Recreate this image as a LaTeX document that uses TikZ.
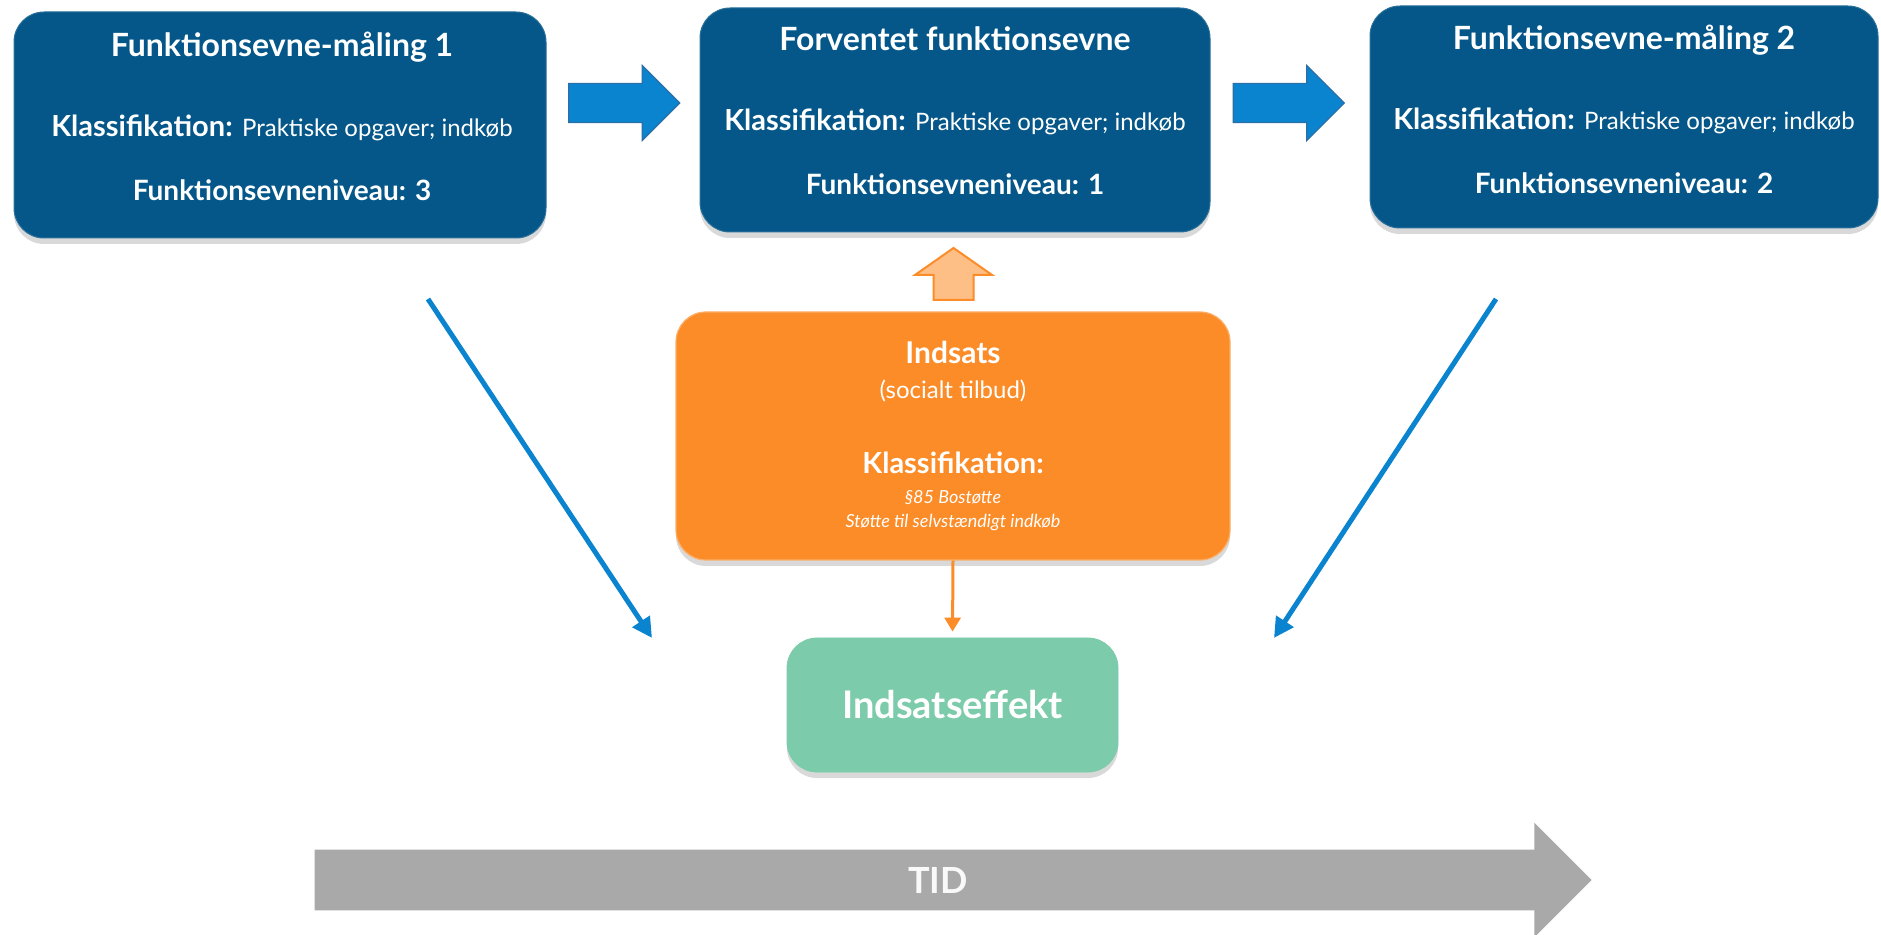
\documentclass[tikz,border=0pt]{standalone}
\usepackage{fontspec}
\setmainfont{Lato}
\usetikzlibrary{shapes.arrows,shadows,arrows.meta,positioning}

\definecolor{maalblue}{HTML}{045788}
\definecolor{pilblue}{HTML}{0A84CF}
\definecolor{pilkant}{HTML}{2B6FA6}
\definecolor{indorange}{HTML}{FB8C28}
\definecolor{lysorange}{HTML}{FEBF87}
\definecolor{effgreen}{HTML}{7CCBAA}
\definecolor{tidgrey}{HTML}{A9A9A9}

\newcommand{\klass}[1]{{\fontsize{14.5}{16}\selectfont\bfseries Klassifikation:} {\fontsize{12}{13}\selectfont #1}}

\begin{document}
\begin{tikzpicture}[
			x=0.5pt,y=-0.5pt,
			boks/.style={rectangle,rounded corners=15pt,drop shadow={shadow xshift=0pt,shadow yshift=-3pt,opacity=0.3}},
			maal/.style={boks,fill=maalblue,draw=maalblue!85!white,line width=0.5pt},
			maaltxt/.style={text=white,align=center,font=\fontsize{14}{17}\selectfont},
			blokpil/.style={single arrow,single arrow head extend=9pt,minimum height=55.5pt,inner xsep=0pt,inner ysep=9.5pt,fill=pilblue,draw=pilkant,line width=0.6pt},
			diagpil/.style={draw=pilblue,line width=2.5pt,-{Triangle[length=10pt,width=10pt]}},
			]
			\useasboundingbox (0,0) rectangle (1881,935);
			% maalinger
			\node [maal,minimum width=266pt,minimum height=113pt] (m1) at (280,125) {};
			\node [maal,minimum width=255pt,minimum height=112pt] (m2) at (955,120) {};
			\node [maal,minimum width=254pt,minimum height=111pt] (m3) at (1624,117) {};
			\node [maaltxt] (m1txt) at (282,116) {\fontsize{16}{18}\selectfont\bfseries Funktionsevne-måling 1\\[23pt]
				\klass{Praktiske opgaver; indkøb}\\[15pt]
				\bfseries Funktionsevneniveau: 3};
			\node [maaltxt] (m2txt) at (955,111) {\fontsize{16}{18}\selectfont\bfseries Forventet funktionsevne\\[23pt]
				\klass{Praktiske opgaver; indkøb}\\[15pt]
				\bfseries Funktionsevneniveau: 1};
			\node [maaltxt] (m3txt) at (1624,109) {\fontsize{16}{18}\selectfont\bfseries Funktionsevne-måling 2\\[23pt]
				\klass{Praktiske opgaver; indkøb}\\[15pt]
				\bfseries Funktionsevneniveau: 2};
			\node [blokpil] (p12) at (614.5,103) {};
			\node [blokpil] (p23) at (1279,103) {};
			% indsats
			\node [boks,fill=indorange,draw=indorange!70!white,line width=0.6pt,minimum width=277pt,minimum height=124pt,text=white,align=center] (ind) at (953,436)
				{\fontsize{15}{12.5}\selectfont\bfseries Indsats\\[5.5pt]
				\fontsize{12}{12.5}\selectfont\mdseries (socialt tilbud)\\[23.5pt]
				\fontsize{14.5}{12.5}\selectfont\bfseries Klassifikation:\\[3pt]
				\fontsize{9}{12.5}\selectfont\mdseries\itshape §85 Bostøtte\\
				\fontsize{9}{12.5}\selectfont\mdseries\itshape Støtte til selvstændigt indkøb};
			\node [single arrow,shape border rotate=90,single arrow head extend=9.25pt,single arrow tip angle=110,minimum height=26pt,inner xsep=9.5pt,inner ysep=0pt,fill=lysorange,draw=indorange,line width=1pt] (op) at (953.5,281) {};
			\node [boks,fill=effgreen,draw=effgreen,minimum width=165.5pt,minimum height=67pt,text=white,font=\fontsize{19}{22}\selectfont\bfseries] (eff) at (952.5,705) {Indsatseffekt};
			\draw [draw=indorange,line width=1.5pt,-{Triangle[length=7pt,width=8pt]},shorten >=3pt] (ind.south) -- (eff.north);
			% skraa pile
			\coordinate (v1) at (428,299);
			\coordinate (v2) at (652,638);
			\coordinate (h1) at (1496,299);
			\coordinate (h2) at (1274,638);
			\draw [diagpil] (v1) -- (v2);
			\draw [diagpil] (h1) -- (h2);
			% tid
			\node [single arrow,single arrow head extend=13.5pt,minimum height=638.5pt,inner ysep=0pt,text height=21.5pt,text depth=8.5pt,fill=tidgrey,text=white!95!gray,font=\fontsize{18}{20}\selectfont\bfseries] (tid) at (938,880) {TID};
		\end{tikzpicture}
\end{document}
